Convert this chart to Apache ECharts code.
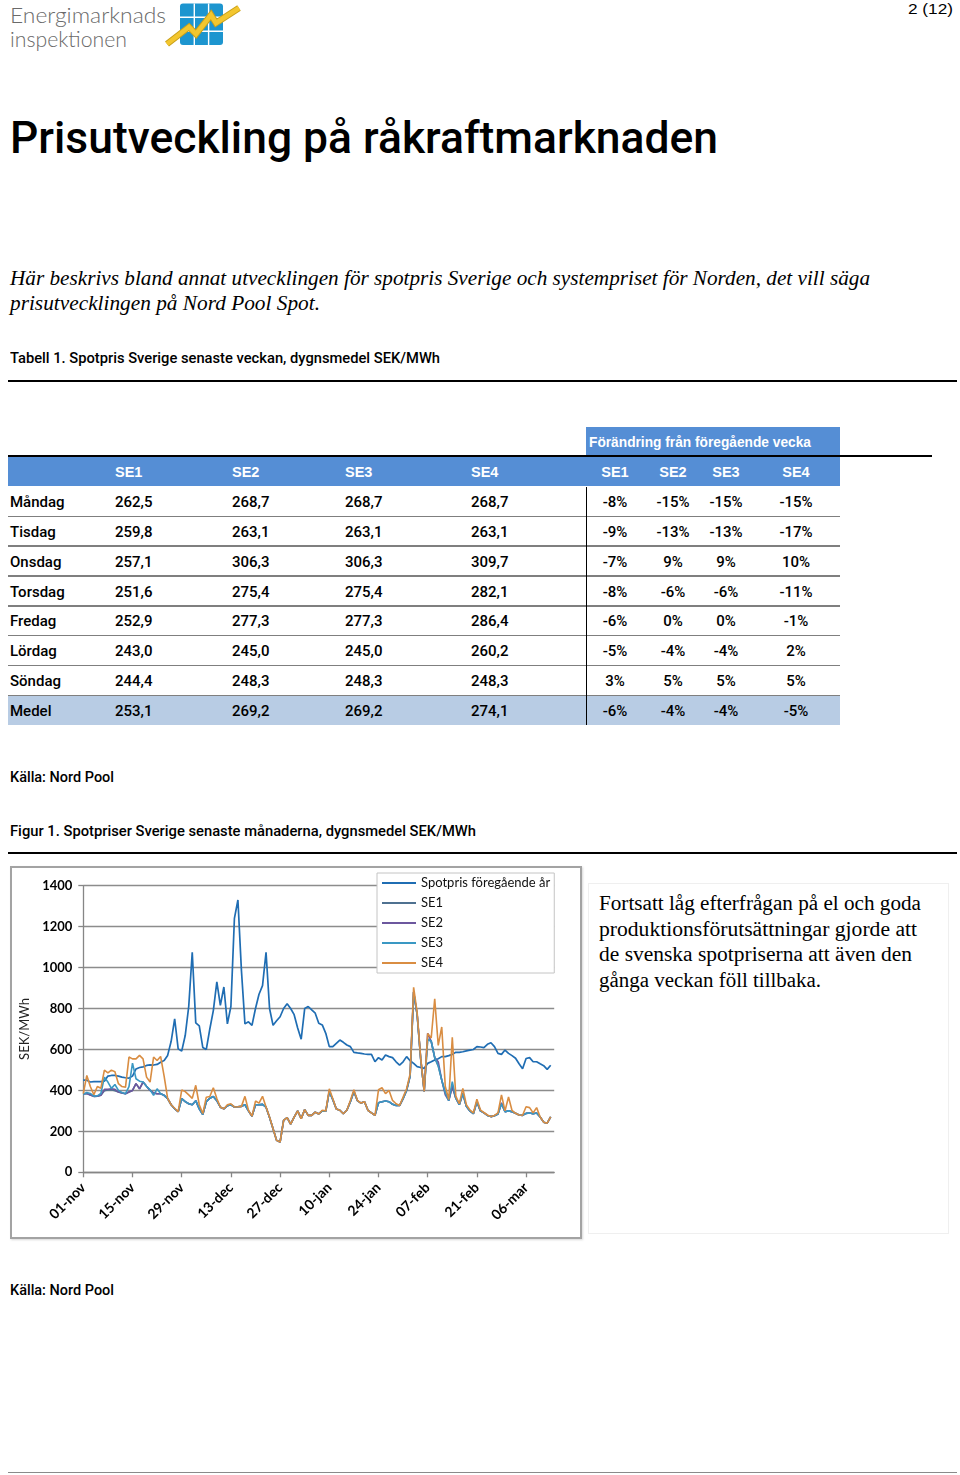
<!DOCTYPE html>
<html lang="sv">
<head>
<meta charset="utf-8">
<title>Prisutveckling på råkraftmarknaden</title>
<script src="https://cdn.jsdelivr.net/npm/echarts@6.0.0/dist/echarts.min.js"></script>
<style>
html,body{margin:0;padding:0;background:#fff}
body{width:960px;height:1475px;position:relative;overflow:hidden;font-family:"Liberation Sans",Arial,sans-serif;color:#000}
.t{position:absolute;white-space:nowrap;line-height:1;transform-origin:0 0}
.rule{position:absolute;background:#000}
.serif{font-family:"Liberation Serif","Times New Roman",serif}
.med{font-family:Roboto,"Liberation Sans",sans-serif;font-weight:500}
.tbl{font-family:Roboto,"Liberation Sans",sans-serif;font-weight:500;font-size:15px}
.hdr{font-family:"Liberation Sans",Arial,sans-serif;font-weight:bold;font-size:14.5px;color:#fff}
</style>
</head>
<body>
<!-- logo -->
<div class="t" style="left:10px;top:4px;font-size:21px;color:#6a6a6a;font-family:Lato,'Open Sans',sans-serif;font-weight:300" data-w="156">Energimarknads</div>
<div class="t" style="left:10px;top:28px;font-size:21px;color:#6a6a6a;font-family:Lato,'Open Sans',sans-serif;font-weight:300" data-w="117">inspektionen</div>
<svg style="position:absolute;left:160px;top:0" width="85" height="50" viewBox="0 0 85 50">
  <rect x="20" y="3.5" width="43" height="41.5" rx="3" fill="#1d95cf"/>
  <g stroke="#ffffff" stroke-width="1.4">
    <line x1="34.3" y1="3.5" x2="34.3" y2="45"/>
    <line x1="48.6" y1="3.5" x2="48.6" y2="45"/>
    <line x1="20" y1="17.3" x2="63" y2="17.3"/>
    <line x1="20" y1="31.2" x2="63" y2="31.2"/>
  </g>
  <polyline points="7,44 29,27 36,34 51,15 56,23 79,8" fill="none" stroke="#c9a01a" stroke-width="6.5" stroke-linejoin="miter"/>
  <polyline points="7,44 29,27 36,34 51,15 56,23 79,8" fill="none" stroke="#f3c62e" stroke-width="4.5" stroke-linejoin="miter"/>
</svg>
<div class="t" style="left:908px;top:1px;font-size:15px" data-w="45">2 (12)</div>

<div class="t med" style="left:10px;top:116px;font-size:44px" data-w="708">Prisutveckling på råkraftmarknaden</div>

<div class="t serif" style="left:10px;top:268px;font-size:20px;font-style:italic" data-w="860">Här beskrivs bland annat utvecklingen för spotpris Sverige och systempriset för Norden, det vill säga</div>
<div class="t serif" style="left:10px;top:293px;font-size:20px;font-style:italic" data-w="310">prisutvecklingen på Nord Pool Spot.</div>

<div class="t med" style="left:10px;top:351px;font-size:15.5px" data-w="430">Tabell 1. Spotpris Sverige senaste veckan, dygnsmedel SEK/MWh</div>
<div class="rule" style="left:8px;top:380px;width:949px;height:2px"></div>

<div id="table"></div>

<div class="t med" style="left:10px;top:770px;font-size:15.5px" data-w="104">Källa: Nord Pool</div>
<div class="t med" style="left:10px;top:824px;font-size:15.5px" data-w="466">Figur 1. Spotpriser Sverige senaste månaderna, dygnsmedel SEK/MWh</div>
<div class="rule" style="left:8px;top:852px;width:949px;height:2px"></div>

<div style="position:absolute;left:10px;top:866px;width:572px;height:373px;box-sizing:border-box;border:2px solid #a3a3a3;box-shadow:1px 1px 2px #d8d8d8"></div>
<div id="chart" style="position:absolute;left:12px;top:868px;width:568px;height:369px"></div>

<div style="position:absolute;left:588px;top:883px;width:361px;height:351px;box-sizing:border-box;border:1px solid #efefef"></div>
<div class="t serif" style="left:599px;top:893px;font-size:20px" data-w="322">Fortsatt låg efterfrågan på el och goda</div>
<div class="t serif" style="left:599px;top:919px;font-size:20px" data-w="318">produktionsförutsättningar gjorde att</div>
<div class="t serif" style="left:599px;top:944px;font-size:20px" data-w="313">de svenska spotpriserna att även den</div>
<div class="t serif" style="left:599px;top:970px;font-size:20px" data-w="222">gånga veckan föll tillbaka.</div>

<div class="t med" style="left:10px;top:1283px;font-size:15.5px" data-w="104">Källa: Nord Pool</div>
<div class="rule" style="left:8px;top:1472px;width:949px;height:1px;background:#8a8a8a"></div>

<script>
// ---------------- table data ----------------
const dayNames = ['Måndag','Tisdag','Onsdag','Torsdag','Fredag','Lördag','Söndag','Medel'];
const priceSE1 = [262.5,259.8,257.1,251.6,252.9,243.0,244.4,253.1];
const priceSE2 = [268.7,263.1,306.3,275.4,277.3,245.0,248.3,269.2];
const priceSE3 = [268.7,263.1,306.3,275.4,277.3,245.0,248.3,269.2];
const priceSE4 = [268.7,263.1,309.7,282.1,286.4,260.2,248.3,274.1];
const chgSE1 = [-8,-9,-7,-8,-6,-5,3,-6];
const chgSE2 = [-15,-13,9,-6,0,-4,5,-4];
const chgSE3 = [-15,-13,9,-6,0,-4,5,-4];
const chgSE4 = [-15,-17,10,-11,-1,2,5,-5];
const zoneNames = ['SE1','SE2','SE3','SE4'];
const changeTitle = 'Förändring från föregående vecka';

// ---------------- chart data (daily average SEK/MWh, 1 Nov 2011 onwards) ----------------
const spotPrevYear = [
 450,450,441,443,443,443,445,470,473,473,
 470,465,462,460,470,505,512,515,522,525,
 524,527,538,546,571,640,750,603,592,668,
 810,1075,730,715,610,600,700,790,930,815,
 905,725,810,1240,1330,985,725,735,718,800,
 870,912,1075,800,718,740,760,800,823,800,
 770,705,650,800,810,793,777,728,720,679,
 614,614,630,646,635,622,614,586,583,581,
 578,576,576,540,560,549,573,565,560,540,
 524,540,565,545,532,516,512,508,532,540,
 549,555,565,565,570,576,586,586,589,593,
 597,600,614,612,609,625,633,614,581,576,
 597,581,570,557,530,506,556,560,540,540,
 530,521,503,523];
const se1 = [
 384,385,378,371,372,376,398,402,403,398,
 392,387,384,392,400,433,408,441,420,400,
 388,384,384,376,360,330,310,296,360,345,
 335,330,350,310,282,345,362,370,350,318,
 310,325,330,319,320,322,330,300,274,330,
 330,332,318,268,213,156,148,254,267,235,
 270,300,262,306,278,278,294,285,300,298,
 395,355,309,303,286,303,345,395,350,338,
 345,303,290,278,340,345,348,345,332,326,
 326,360,400,470,880,770,555,395,650,640,
 560,520,450,390,350,420,362,330,385,322,
 300,286,345,300,290,278,272,276,285,335,
 296,300,296,288,280,278,288,290,286,290,
 270,245,240,271];
const se2 = [
 384,385,378,371,372,376,405,406,408,405,
 392,387,384,392,400,433,408,441,420,400,
 388,384,384,376,360,330,310,296,360,345,
 335,330,350,310,282,345,362,370,350,318,
 310,325,330,319,320,322,330,300,274,330,
 330,332,318,268,213,156,148,254,267,235,
 270,300,262,306,278,278,294,285,300,298,
 395,355,309,303,286,303,345,395,350,338,
 345,303,290,278,340,345,348,345,332,326,
 326,360,400,470,880,770,555,395,679,640,
 560,540,450,378,350,420,362,330,385,322,
 300,286,345,300,290,278,272,276,285,340,
 296,300,296,288,280,278,288,290,286,290,
 270,245,240,271];
const se3 = [
 380,390,385,372,373,385,465,441,410,429,
 400,390,384,419,533,457,445,441,420,403,
 376,408,384,376,360,330,310,296,360,345,
 335,330,350,310,282,345,362,370,350,318,
 310,325,330,319,320,322,330,300,274,330,
 330,332,318,268,213,156,148,254,267,235,
 270,300,262,306,278,278,294,285,300,298,
 395,355,309,303,286,303,345,395,350,338,
 345,303,290,278,340,345,348,345,332,326,
 326,360,400,470,880,770,555,395,650,640,
 560,520,450,390,350,443,362,330,385,322,
 300,286,345,300,290,278,272,276,285,335,
 296,300,296,288,280,278,288,290,286,290,
 270,245,240,271];
const se4 = [
 384,473,419,379,419,411,499,486,499,491,
 433,419,415,563,554,554,571,554,465,441,
 563,546,566,470,361,330,313,296,402,394,
 378,361,425,330,287,367,370,413,360,319,
 310,330,335,319,320,322,371,303,274,348,
 338,371,319,270,213,156,148,254,267,235,
 270,300,262,306,278,278,294,285,303,300,
 408,359,309,303,286,303,351,403,351,338,
 345,303,290,278,403,413,384,400,351,335,
 326,367,408,481,904,780,560,395,678,656,
 848,620,710,420,356,660,372,335,410,330,
 305,290,357,305,292,280,272,278,290,378,
 300,368,302,288,280,279,320,316,290,316,
 270,245,240,271];
const seriesNames = ['Spotpris föregående år','SE1','SE2','SE3','SE4'];
const seriesColors = ['#1f6db3','#4f7190','#6c579e','#3a98c3','#d98d42'];
const monthAbbr = ['jan','feb','mar','apr','maj','jun','jul','aug','sep','okt','nov','dec'];
const yTicks = {min:0, max:1400, step:200};
const dayCount = 135; // 1 Nov 2011 .. 14 Mar 2012 on the axis

// categories
const categories = [];
for (let i = 0; i < dayCount; i++) {
  const d = new Date(2011, 10, 1 + i);
  categories.push(String(d.getDate()).padStart(2,'0') + '-' + monthAbbr[d.getMonth()]);
}

// ---------------- build table ----------------
(function buildTable(){
  const host = document.getElementById('table');
  let h = '';
  const blue = '#558ed5';
  h += `<div style="position:absolute;left:586px;top:427px;width:254px;height:28px;background:${blue}"></div>`;
  h += `<div class="t hdr" style="left:589px;top:434px;font-size:15px" data-w="222">${changeTitle}</div>`;
  h += `<div class="rule" style="left:8px;top:455px;width:924px;height:2px"></div>`;
  h += `<div style="position:absolute;left:8px;top:457px;width:832px;height:29px;background:${blue}"></div>`;
  const leftX = [115,232,345,471];
  const centers = [615,673,726,796];
  zoneNames.forEach((z,i)=>{
    h += `<div class="t hdr" style="left:${leftX[i]}px;top:465px">${z}</div>`;
    h += `<div class="t hdr" style="left:${centers[i]-40}px;width:80px;text-align:center;top:465px">${z}</div>`;
  });
  const prices = [priceSE1,priceSE2,priceSE3,priceSE4];
  const chgs = [chgSE1,chgSE2,chgSE3,chgSE4];
  const pitch = 29.86;
  dayNames.forEach((name,r)=>{
    const top = 487 + r*pitch;
    if (r === dayNames.length-1) {
      h += `<div style="position:absolute;left:8px;top:${top}px;width:832px;height:29px;background:#b8cce4"></div>`;
    } else {
      h += `<div style="position:absolute;left:8px;top:${top+28.5}px;width:832px;height:1.5px;background:#7f7f7f"></div>`;
    }
    const ty = top + 8;
    h += `<div class="t tbl" style="left:10px;top:${ty}px">${name}</div>`;
    prices.forEach((arr,i)=>{
      h += `<div class="t tbl" style="left:${leftX[i]}px;top:${ty}px">${arr[r].toFixed(1).replace('.',',')}</div>`;
    });
    chgs.forEach((arr,i)=>{
      h += `<div class="t tbl" style="left:${centers[i]-40}px;width:80px;text-align:center;top:${ty}px">${arr[r]}%</div>`;
    });
  });
  h += `<div class="rule" style="left:586px;top:487px;width:1px;height:238px"></div>`;
  host.innerHTML = h;
})();

// ---------------- fit text widths ----------------
document.querySelectorAll('[data-w]').forEach(el=>{
  const w = el.getBoundingClientRect().width;
  const target = parseFloat(el.dataset.w);
  if (w > 0) el.style.transform = 'scaleX(' + (target / w) + ')';
});

// ---------------- chart ----------------
const chart = echarts.init(document.getElementById('chart'), null, {renderer:'canvas'});
const dataSets = [spotPrevYear, se1, se2, se3, se4];
chart.setOption({
  animation: false,
  backgroundColor: '#ffffff',
  textStyle: {fontFamily: 'Lato, "Open Sans", sans-serif'},
  grid: {left: 71.3, top: 17.7, width: 470.9, height: 286.6, containLabel: false, outerBoundsMode: 'none'},
  legend: {
    orient: 'vertical', left: 365, top: 5,
    data: seriesNames, selectedMode: false,
    icon: 'rect', itemWidth: 34, itemHeight: 2, itemGap: 6,
    backgroundColor: '#ffffff', borderColor: '#c4c4c4', borderWidth: 1,
    padding: [3, 4, 3, 5],
    textStyle: {fontFamily: 'Lato, "Open Sans", sans-serif', fontSize: 13, color: '#111', lineHeight: 14}
  },
  xAxis: {
    type: 'category', data: categories, boundaryGap: false,
    axisLine: {lineStyle: {color: '#868686', width: 1.3}},
    axisTick: {show: true, interval: 13, length: 5, lineStyle: {color: '#868686', width: 1.3}},
    axisLabel: {interval: 13, rotate: 45, margin: 13, fontFamily: 'Lato, sans-serif', fontWeight: 'bold', fontSize: 14, color: '#000'},
    splitLine: {show: false}
  },
  yAxis: {
    type: 'value', min: yTicks.min, max: yTicks.max, interval: yTicks.step,
    name: 'SEK/MWh', nameLocation: 'middle', nameGap: 29, nameRotate: 90,
    nameTextStyle: {fontFamily: 'Lato, sans-serif', fontSize: 13, color: '#222'},
    axisLine: {show: true, lineStyle: {color: '#868686', width: 1.3}},
    axisTick: {show: true, length: 5, lineStyle: {color: '#868686', width: 1.3}},
    axisLabel: {margin: 11, formatter: v => String(v), fontFamily: 'Lato, sans-serif', fontWeight: 'bold', fontSize: 13, color: '#000'},
    splitLine: {show: true, lineStyle: {color: '#8c8c8c', width: 1.3}}
  },
  series: seriesNames.map((n, i) => ({
    name: n, type: 'line', data: dataSets[i], symbol: 'none', showSymbol: false,
    lineStyle: {color: seriesColors[i], width: i === 0 ? 1.7 : 1.6},
    itemStyle: {color: seriesColors[i]},
    emphasis: {disabled: true}, z: 2 + i
  }))
});
</script>
</body>
</html>
